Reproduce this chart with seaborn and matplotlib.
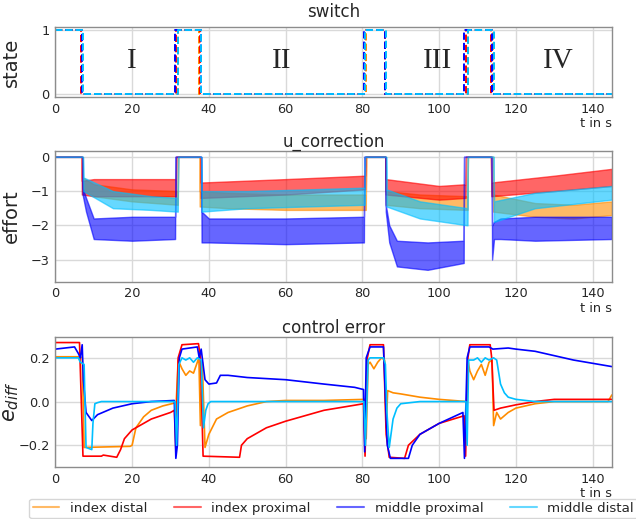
import matplotlib
matplotlib.use("Agg")
import matplotlib.pyplot as plt
import seaborn as sns
from matplotlib.lines import Line2D

# series names / colors
names = ["index distal", "index proximal", "middle proximal", "middle distal"]
colors = ["darkorange", "red", "blue", "deepskyblue"]

# switch times (state toggles 1 -> 0 -> 1 ...)
sw_index_distal = [7.0, 32.0, 37.5, 81.0, 86.0, 107.5, 114.0]
sw_index_proximal = [6.8, 31.5, 37.8, 80.8, 86.0, 107.0, 113.5]
sw_middle_proximal = [7.0, 31.3, 38.0, 80.5, 86.0, 106.5, 113.7]
sw_middle_distal = [7.2, 32.0, 38.0, 80.7, 86.2, 107.5, 114.2]

phase_labels = ["I", "II", "III", "IV"]
phase_x = [20, 59, 99.5, 131]

# u_correction: noise band (low / high) per finger
u_t_id = [0, 7.0, 7.1, 10, 20, 31.9, 32.0, 37.5, 37.6, 45, 60, 80.9, 81.0, 86.0, 86.1, 95, 107.4, 107.5, 114.0, 114.1, 125, 135, 145]
u_lo_id = [0, 0, -1.0, -1.15, -1.3, -1.4, 0, 0, -1.45, -1.5, -1.55, -1.55, 0, 0, -1.4, -1.5, -1.55, 0, 0, -1.6, -1.75, -1.8, -1.7]
u_hi_id = [0, 0, -0.6, -0.8, -0.95, -1.0, 0, 0, -1.0, -1.05, -1.1, -1.1, 0, 0, -1.0, -1.1, -1.15, 0, 0, -1.1, -1.35, -1.4, -1.3]

u_t_ip = [0, 6.8, 6.9, 10, 20, 31.4, 31.5, 37.8, 37.9, 60, 80.7, 80.8, 86.0, 86.1, 100, 106.9, 107.0, 113.5, 113.6, 130, 145]
u_lo_ip = [0, 0, -1.1, -1.15, -1.15, -1.15, 0, 0, -1.2, -1.1, -0.95, 0, 0, -1.1, -1.25, -1.2, 0, 0, -1.15, -1.0, -0.85]
u_hi_ip = [0, 0, -0.7, -0.65, -0.65, -0.65, 0, 0, -0.75, -0.65, -0.55, 0, 0, -0.65, -0.85, -0.8, 0, 0, -0.75, -0.55, -0.35]

u_t_mp = [0, 7.0, 7.1, 8, 10, 20, 31.2, 31.3, 38.0, 38.1, 40, 60, 80.4, 80.5, 86.0, 86.1, 87, 89, 97, 106.4, 106.5, 113.7, 113.8, 114.3, 116, 125, 145]
u_lo_mp = [0, 0, -1.1, -1.6, -2.4, -2.45, -2.4, 0, 0, -2.5, -2.5, -2.55, -2.5, 0, 0, -1.6, -2.5, -3.2, -3.3, -3.1, 0, 0, -3.0, -2.4, -2.4, -2.45, -2.4]
u_hi_mp = [0, 0, -0.9, -1.2, -1.8, -1.75, -1.75, 0, 0, -1.6, -1.8, -1.8, -1.75, 0, 0, -1.4, -2.0, -2.45, -2.5, -2.45, 0, 0, -2.0, -1.9, -1.8, -1.75, -1.75]

u_t_md = [0, 7.2, 7.3, 15, 25, 31.9, 32.0, 38.0, 38.1, 50, 80.6, 80.7, 86.2, 86.3, 95, 107.4, 107.5, 114.2, 114.3, 125, 145]
u_lo_md = [0, 0, -1.0, -1.5, -1.55, -1.6, 0, 0, -1.6, -1.5, -1.4, 0, 0, -1.45, -1.8, -2.0, 0, 0, -1.9, -1.5, -1.25]
u_hi_md = [0, 0, -0.6, -1.0, -1.15, -1.2, 0, 0, -1.0, -1.0, -0.9, 0, 0, -0.95, -1.3, -1.5, 0, 0, -1.3, -1.05, -0.85]

# control error
e_t_id = [0, 6.5, 7.0, 7.5, 19.5, 20.0, 21, 23, 25, 28, 31.5, 32.0, 33, 34, 35, 36, 37, 37.4, 37.8, 38.3,
          39, 40, 42, 45, 50, 55, 60, 70, 80.7, 81.0, 81.5, 82, 83, 84, 85, 85.8, 86.2, 86.6, 88, 90,
          95, 100, 107.2, 107.6, 108, 109, 110, 111, 112, 113, 113.8, 114.2, 115, 116, 118, 120, 125, 130, 144, 145]
e_id = [0.205, 0.205, 0.2, -0.21, -0.205, -0.2, -0.12, -0.07, -0.04, -0.02, -0.005, 0.19, 0.15, 0.12, 0.14, 0.13, 0.18, 0.2, -0.11, 0.18,
        -0.21, -0.15, -0.08, -0.05, -0.02, 0.0, 0.005, 0.005, 0.01, -0.17, 0.17, 0.18, 0.15, 0.18, 0.2, 0.19, -0.12, 0.05, 0.04, 0.035,
        0.02, 0.01, 0.0, 0.18, 0.14, 0.1, 0.14, 0.17, 0.12, 0.18, 0.19, -0.11, -0.05, -0.08, -0.05, -0.03, -0.01, 0.0, 0.0, 0.03]

e_t_ip = [0, 6.3, 7.2, 12, 12.5, 16, 17, 18, 20, 25, 30, 31.0, 31.4, 32.0, 33, 37.3, 37.8, 38.5, 48, 48.5,
          50, 55, 60, 70, 80.3, 80.7, 81.3, 82, 85.5, 86.2, 87, 91, 92, 95, 100, 106.5, 106.9, 107.5, 108, 113.3,
          113.7, 114.3, 116, 120, 125, 130, 145]
e_ip = [0.27, 0.27, -0.25, -0.25, -0.245, -0.255, -0.22, -0.17, -0.13, -0.08, -0.05, -0.04, -0.22, 0.2, 0.26, 0.265, 0.2, -0.25, -0.255, -0.2,
        -0.17, -0.12, -0.09, -0.04, -0.01, -0.25, 0.2, 0.26, 0.26, -0.15, -0.255, -0.26, -0.2, -0.15, -0.1, -0.065, -0.25, 0.2, 0.26, 0.26,
        0.2, -0.04, -0.03, -0.015, 0.0, 0.01, 0.01]

e_t_mp = [0, 5, 6, 6.5, 7.0, 7.3, 8, 9.5, 11, 15, 20, 25, 31.0, 31.4, 31.8, 32.3, 33, 37, 37.5, 38.0,
          39, 40, 42, 43, 45, 50, 60, 65, 70, 78, 80.3, 80.6, 81.0, 82, 85.5, 86.5, 87.3, 92, 93, 95,
          100, 106.2, 106.6, 107.3, 108, 113, 114, 118, 120, 125, 130, 135, 140, 145]
e_mp = [0.24, 0.25, 0.22, 0.2, 0.26, 0.1, -0.05, -0.087, -0.06, -0.03, -0.01, 0.0, 0.005, -0.26, -0.2, 0.2, 0.24, 0.25, 0.2, 0.24,
        0.1, 0.08, 0.085, 0.12, 0.12, 0.11, 0.1, 0.09, 0.08, 0.065, 0.055, -0.23, 0.2, 0.25, 0.25, -0.2, -0.26, -0.26, -0.2, -0.15,
        -0.1, -0.05, -0.26, 0.2, 0.25, 0.25, 0.24, 0.245, 0.24, 0.23, 0.21, 0.19, 0.175, 0.16]

e_t_md = [0, 6.0, 6.5, 7.5, 8.0, 9.5, 9.8, 10.3, 11, 12, 31.2, 31.6, 32.2, 33, 34, 35, 36, 37, 38.0, 38.6,
          39.2, 39.8, 40.5, 42, 80.4, 80.8, 81.5, 82, 84, 85.5, 86.0, 86.4, 87.0, 88, 89, 90, 95, 107.0, 107.3, 107.7,
          109, 110, 111, 112, 113, 114.2, 115, 116, 117, 118, 120, 125, 145]
e_md = [0.2, 0.2, 0.18, 0.17, -0.21, -0.22, -0.1, -0.01, -0.005, 0.0, 0.0, -0.2, 0.17, 0.2, 0.19, 0.2, 0.18, 0.2, 0.19, -0.12,
        -0.04, -0.01, 0.0, 0.0, 0.0, -0.2, 0.19, 0.2, 0.2, 0.2, 0.17, -0.05, -0.21, -0.08, -0.03, -0.01, 0.0, 0.0, -0.2, 0.19,
        0.19, 0.2, 0.18, 0.2, 0.19, 0.2, 0.19, 0.08, 0.04, 0.02, 0.01, 0.0, 0.0]

T_END = 145

sns.set_theme(style="whitegrid", rc={
    "axes.edgecolor": "0.55",
    "grid.color": "0.85",
    "axes.linewidth": 1.0,
})
plt.rcParams["font.family"] = ["DejaVu Sans"]

fig = plt.figure(figsize=(6.36, 5.19), dpi=100)
ax1 = fig.add_axes([0.087, 0.813, 0.875, 0.135])
ax2 = fig.add_axes([0.087, 0.457, 0.875, 0.252])
ax3 = fig.add_axes([0.087, 0.100, 0.875, 0.2505])

# switch panel
switches = [sw_index_distal, sw_index_proximal, sw_middle_proximal, sw_middle_distal]
for sw, c in zip(switches, colors):
    t = [0] + sw + [T_END]
    s = [(i + 1) % 2 for i in range(len(sw) + 1)]
    s = s + [s[-1]]
    sns.lineplot(x=t, y=s, ax=ax1, color=c, linestyle="--", lw=1.4,
                 drawstyle="steps-post", estimator=None, sort=False)
for lab, x in zip(phase_labels, phase_x):
    ax1.text(x, 0.52, lab, ha="center", va="center", fontsize=21,
             family="Liberation Serif")
ax1.set_ylim(-0.05, 1.05)
ax1.set_yticks([0, 1])
ax1.set_ylabel("state", fontsize=14)
ax1.set_title("switch", fontsize=12, pad=7)

# u_correction panel
bands = [(u_t_id, u_lo_id, u_hi_id), (u_t_ip, u_lo_ip, u_hi_ip),
         (u_t_mp, u_lo_mp, u_hi_mp), (u_t_md, u_lo_md, u_hi_md)]
for (t, lo, hi), c in zip(bands, colors):
    ax2.fill_between(t, lo, hi, color=c, alpha=0.6, lw=1.0)
ax2.set_ylim(-3.65, 0.17)
ax2.set_yticks([0, -1, -2, -3])
ax2.set_ylabel("effort", fontsize=14)
ax2.set_title("u_correction", fontsize=12, pad=3)

# control error panel
errs = [(e_t_id, e_id), (e_t_ip, e_ip), (e_t_mp, e_mp), (e_t_md, e_md)]
for (t, e), c in zip(errs, colors):
    sns.lineplot(x=t, y=e, ax=ax3, color=c, lw=1.2, estimator=None, sort=False)
ax3.set_ylim(-0.30, 0.295)
ax3.set_yticks([-0.2, 0.0, 0.2])
ax3.set_ylabel("$e_{diff}$", fontsize=15)
ax3.set_title("control error", fontsize=12, pad=3)

for ax in (ax1, ax2, ax3):
    ax.set_xlim(0, T_END)
    ax.set_xticks(range(0, 141, 20))
    ax.tick_params(labelsize=9.3, length=0, pad=4)
    ax.set_xlabel("t in s", loc="right", fontsize=9.3, labelpad=1)
    ax.yaxis.set_label_coords(-0.062, 0.5)

handles = [Line2D([], [], color=c, alpha=0.6, lw=1.5) for c in colors]
fig.legend(handles, names, loc="upper center", bbox_to_anchor=(0.524, 0.039),
           ncol=4, fontsize=9.6, frameon=True, columnspacing=2.0,
           borderpad=0.25, handletextpad=0.8, borderaxespad=0.0)

fig.savefig("out.png", dpi=100)
